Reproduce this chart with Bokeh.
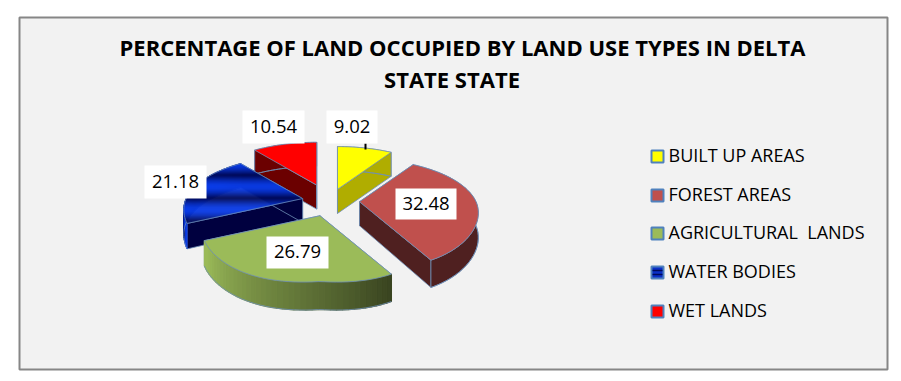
from bokeh.plotting import figure
from bokeh.embed import file_html
from bokeh.resources import INLINE
from bokeh.models import Range1d
from bokeh.core.properties import value
import math

categories = ["BUILT UP AREAS", "FOREST AREAS", "AGRICULTURAL\u00a0\u00a0LANDS", "WATER BODIES", "WET LANDS"]
values = [9.02, 32.48, 26.79, 21.18, 10.54]
title_lines = ["PERCENTAGE OF LAND OCCUPIED BY LAND USE TYPES IN DELTA", "STATE STATE"]

# styles / layout (page pixels)
top_colors = ["#FFFF00", "#C0504D", "#9BBB59", "#0A2FC8", "#FF0000"]
side_colors = ["#B0AD00", "#4F2020", "#9BBB59", "#00003F", "#6B0000"]
explode = [30, 30, 30, 28, 42]
label_boxes = [(326, 377, 110, 143), (395, 456, 188, 219), (266, 328, 236, 268), (144, 206, 165, 198), (242, 304, 110, 143)]
CX, CY, R, TILT, PERS, DEPTH = 329, 201, 116.5, 0.44, 0.197, 24


def proj(r, deg):
    a = math.radians(deg)
    s = 1 / (1 + PERS * (r / R) * math.cos(a))
    y = r * math.cos(a) * TILT * s
    if math.cos(a) < 0:
        y *= 1.03 + 0.08 * abs(math.sin(2 * a))
    return r * math.sin(a) * s, -y


def depth_at(deg):
    a = math.radians(deg)
    return DEPTH * max(1.0, (1 / (1 + PERS * math.cos(a))) ** 0.7)


def mix(c1, c2, t):
    a = [int(c1[i:i + 2], 16) for i in (1, 3, 5)]
    b = [int(c2[i:i + 2], 16) for i in (1, 3, 5)]
    return "#%02x%02x%02x" % tuple(round(x + (y - x) * t) for x, y in zip(a, b))


def clip_band(poly, y0, y1):
    def clip(pts, keep, yb):
        out = []
        for i, pt in enumerate(pts):
            q = pts[(i + 1) % len(pts)]
            if keep(pt):
                out.append(pt)
            if keep(pt) != keep(q):
                t = (yb - pt[1]) / (q[1] - pt[1])
                out.append((pt[0] + (q[0] - pt[0]) * t, yb))
        return out
    pts = clip(poly, lambda q: q[1] >= y0, y0)
    if pts:
        pts = clip(pts, lambda q: q[1] <= y1, y1)
    return pts


def band_color(y):
    # repeating blue stripes of the reference's gradient fill (dark every 23 px)
    t = 0.5 - 0.5 * math.cos(2 * math.pi * (y - 175) / 23.0)
    return mix("#000A5A", "#0A3CE6", t ** 0.6)


p = figure(width=893, height=373, output_backend="svg", toolbar_location=None,
           x_range=Range1d(0, 893), y_range=Range1d(373, 0), min_border=0)
p.axis.visible = False
p.grid.visible = False
p.outline_line_color = None
p.background_fill_color = "#FFFFFF"
p.border_fill_color = "#FFFFFF"

p.quad(left=[19], right=[887], top=[17], bottom=[369],
       fill_color="#F2F2F2", line_color="#868686", line_width=2)

total = sum(values)
starts, c = [], 0.0
for v in values:
    starts.append(c)
    c += v / total * 360

edge = "#6F8FB8"
geo = []
for i, v in enumerate(values):
    a0 = starts[i]
    a1 = a0 + v / total * 360
    ax, ay = proj(explode[i], (a0 + a1) / 2)
    ax += CX
    ay += CY
    n = 40
    angs = [a0 + (a1 - a0) * k / n for k in range(n + 1)]
    rim = [(ax + proj(R, t)[0], ay + proj(R, t)[1]) for t in angs]
    geo.append((ax, ay, angs, rim))

# paint back slices first
for i in [4, 0, 3, 1, 2]:
    ax, ay, angs, rim = geo[i]
    # cut walls
    for (rx, ry), ang in ((rim[0], angs[0]), (rim[-1], angs[-1])):
        p.patch([ax, rx, rx, ax], [ay, ry, ry + depth_at(ang), ay + DEPTH],
                fill_color=side_colors[i], line_color=edge, line_width=0.8)
    # outer rim wall
    n = len(rim)
    low = [(x, y + depth_at(t)) for (x, y), t in zip(rim, angs)]
    if i == 2:
        for k in range(n - 1):
            (x0, y0), (x1, y1) = rim[k], rim[k + 1]
            col = mix("#3A4521", "#9BBB59", min(1.0, (k / (n - 1)) * 1.05))
            p.patch([x0, x1, x1, x0], [y0, y1, low[k + 1][1], low[k][1]], fill_color=col, line_color=col, line_width=1.2)
    elif i == 3:
        for k in range(n - 1):
            (x0, y0), (x1, y1) = rim[k], rim[k + 1]
            col = band_color((y0 + y1) / 2 + 12)
            p.patch([x0, x1, x1, x0], [y0, y1, low[k + 1][1], low[k][1]], fill_color=col, line_color=col, line_width=1)
    else:
        p.patch([q[0] for q in rim + low[::-1]], [q[1] for q in rim + low[::-1]],
                fill_color=side_colors[i], line_color=edge, line_width=0.8)
    # outline of the wall
    p.line([q[0] for q in low], [q[1] for q in low], line_color=edge, line_width=0.8)
    # top face
    poly = [(ax, ay)] + rim
    if i == 3:
        ys = [q[1] for q in poly]
        y = math.floor(min(ys))
        while y < max(ys):
            band = clip_band(poly, y, y + 1)
            if len(band) >= 3:
                col = band_color(y + 0.5)
                p.patch([q[0] for q in band], [q[1] for q in band], fill_color=col, line_color=col, line_width=0.6)
            y += 1
        p.patch([q[0] for q in poly], [q[1] for q in poly], fill_color=None, line_color=edge, line_width=0.8)
    else:
        p.patch([q[0] for q in poly], [q[1] for q in poly], fill_color=top_colors[i], line_color=edge, line_width=0.8)

# leader line of the first label
p.segment(x0=[365], y0=[143], x1=[365], y1=[149], line_color="#000000", line_width=2)

# data labels
p.quad(left=[b[0] for b in label_boxes], right=[b[1] for b in label_boxes],
       top=[b[2] for b in label_boxes], bottom=[b[3] for b in label_boxes],
       fill_color="#FFFFFF", line_color=None)
p.text(x=[(b[0] + b[1]) / 2 for b in label_boxes], y=[(b[2] + b[3]) / 2 - 1 for b in label_boxes],
       text=["%.2f" % v for v in values], text_font=value("Open Sans"), text_font_size="18.5px",
       text_align="center", text_baseline="middle", text_color="#000000")

# title
p.text(x=[462, 451.5], y=[46, 78.5], text=title_lines, text_font=value("Open Sans"),
       text_font_size="22px", text_font_style="bold", text_align="center", text_baseline="middle", text_color="#000000")

# legend
leg_y = [156, 195, 233, 272, 311]
p.quad(left=[651] * 5, right=[663] * 5, top=[y - 6 for y in leg_y], bottom=[y + 6 for y in leg_y],
       fill_color=top_colors, line_color="#4F81BD", line_width=2)
p.segment(x0=[652, 652], x1=[662, 662], y0=[leg_y[3] - 2, leg_y[3] + 2], y1=[leg_y[3] - 2, leg_y[3] + 2],
          line_color="#000A5A", line_width=1.5)
p.text(x=[668] * 5, y=[y - 2 for y in leg_y], text=categories, text_font=value("Open Sans"),
       text_font_size="18px", text_align="left", text_baseline="middle", text_color="#000000")

open("out.html", "w").write(file_html(p, INLINE))
